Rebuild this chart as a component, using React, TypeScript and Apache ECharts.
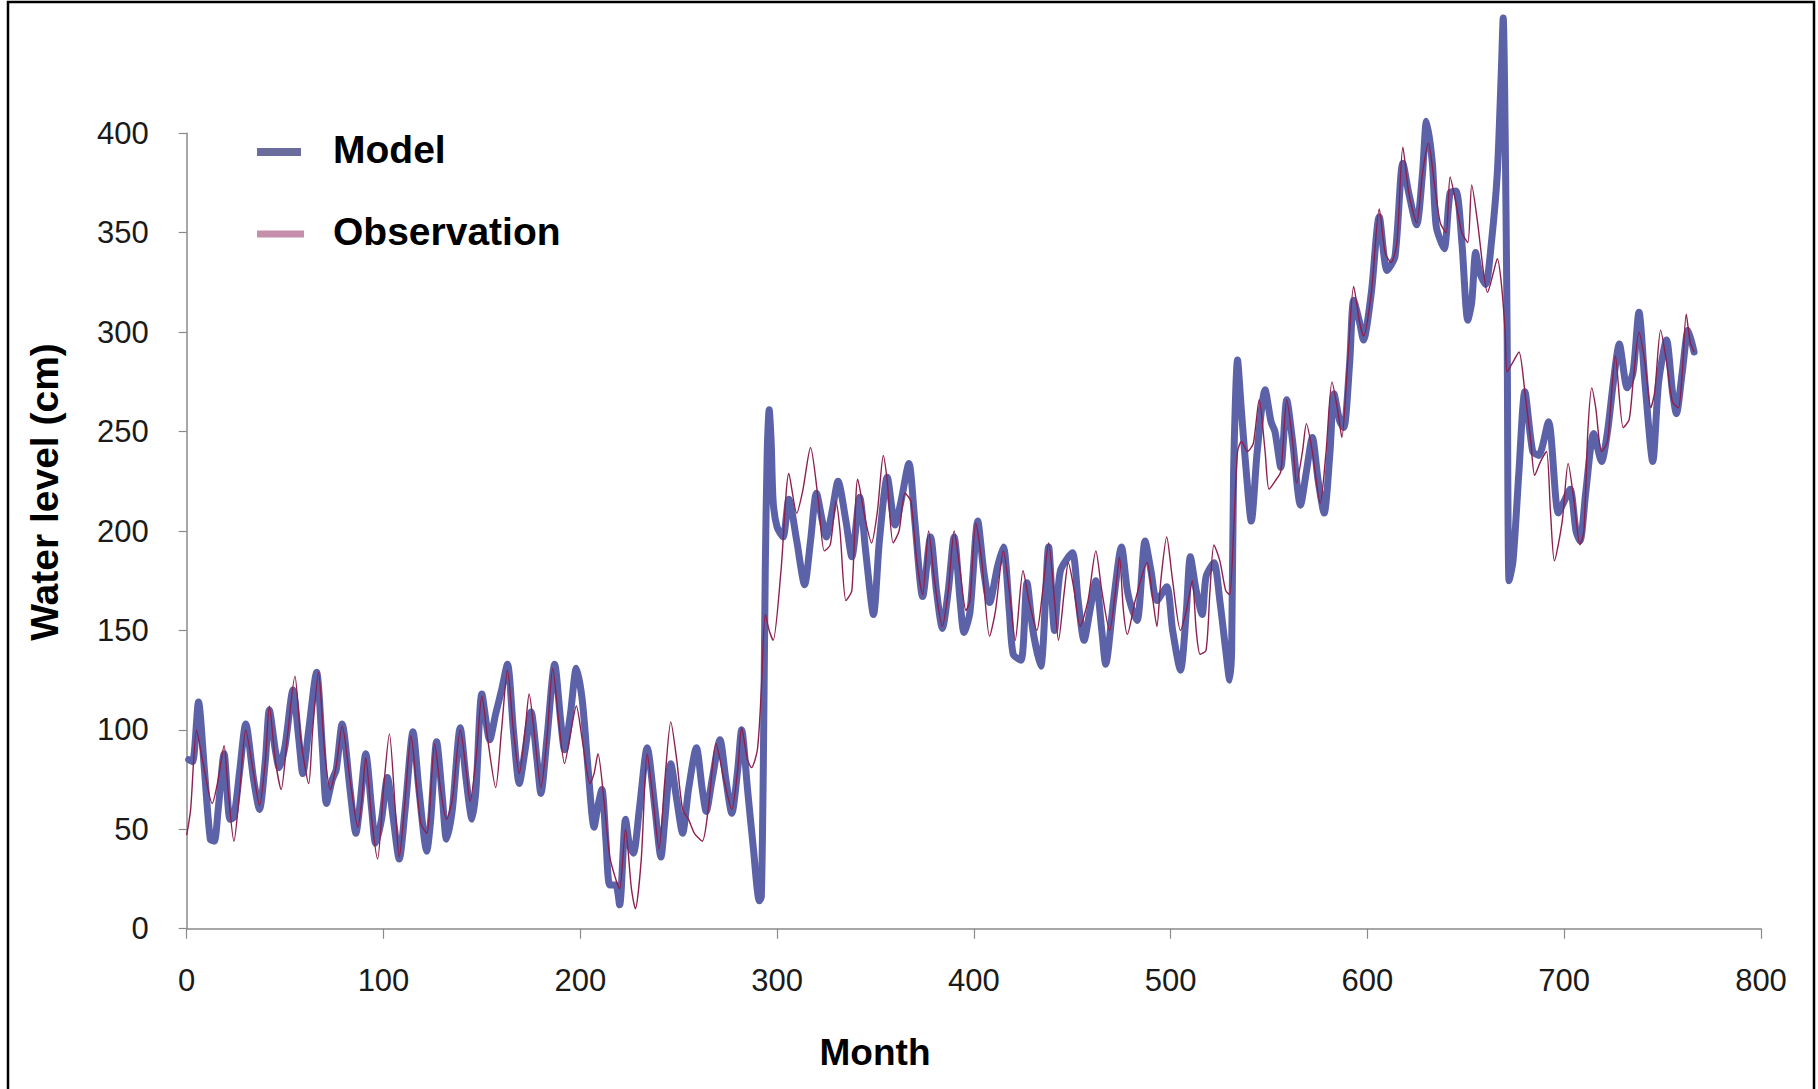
import React, { useEffect, useRef } from "react";
import * as echarts from "echarts";

// ---- Data ----
const modelMonths = [1,3,6,9,12,14,16,19,22,24,27,30,34,37,40,42,45,47,50,54,57,59,62,66,69,71,74,76,79,83,86,88,91,94,96,99,102,105,108,111,115,118,122,124,127,130,132,135,139,142,145,147,150,154,157,160,163,166,169,172,175,178,180,183,187,190,192,195,198,201,204,207,209,211,213,215,218,220,223,225,227,230,234,238,241,243,246,249,252,255,259,262,264,267,271,274,277,280,282,285,288,291,292,293,294,295,296,297,298,300,303,306,310,314,317,320,323,325,328,331,335,338,342,345,349,352,356,360,363,367,370,374,378,381,384,387,390,393,395,398,402,405,408,412,415,418,420,424,427,430,434,438,441,444,450,453,456,459,462,465,467,471,475,478,480,483,487,490,493,498,501,505,508,510,513,516,518,522,525,528,530,531,532,534,536,538,541,544,548,551,553,556,559,562,566,569,572,575,578,581,583,586,588,591,593,596,598,602,606,610,614,618,621,625,628,630,633,635,639,642,645,648,651,653,655,657,660,663,666,668,669,670,671,672,674,677,680,684,687,692,697,700,703,706,708,711,715,719,722,725,728,732,735,738,741,745,748,752,755,757,760,763,766];
const modelLevels = [85,84,114,80,45,44,60,88,55,56,80,103,75,60,85,110,90,81,92,120,95,78,100,129,90,63,75,80,103,70,48,62,88,60,43,55,76,55,35,60,99,70,39,55,94,65,45,60,101,75,55,70,118,95,108,120,133,100,73,90,109,85,68,95,133,105,90,108,131,115,80,51,62,70,45,22,22,12,55,42,38,60,91,60,36,55,83,65,48,70,91,70,59,75,95,75,58,80,100,70,40,14,16,80,180,240,261,245,215,202,197,216,195,173,195,219,205,197,210,225,205,187,217,190,158,195,227,203,215,234,205,167,197,170,151,170,197,165,149,159,205,180,164,182,192,160,138,135,174,150,132,192,150,180,189,165,145,160,175,150,133,165,192,170,162,155,195,180,165,172,150,130,160,187,170,158,177,184,165,140,125,140,230,286,260,235,205,240,271,255,250,232,266,245,213,230,247,225,209,240,269,255,252,285,316,305,296,320,358,331,338,385,370,354,380,406,385,353,342,370,371,345,306,315,340,330,324,345,380,430,458,400,300,175,185,230,270,240,238,255,209,215,221,200,195,220,249,235,250,275,294,272,280,310,275,235,275,296,270,259,280,301,290];

const obsMonths = [0,2,5,8,13,16,19,21,24,27,30,34,37,40,42,45,48,51,55,58,62,64,67,70,73,76,79,83,87,89,91,94,97,100,103,106,108,111,114,117,119,122,126,129,132,135,139,142,144,147,150,153,157,160,163,166,169,172,174,177,180,183,186,189,192,195,198,201,205,207,209,212,215,218,220,223,226,228,231,234,237,240,243,246,249,252,255,258,262,265,269,273,277,280,282,285,287,290,292,294,296,298,302,306,310,313,317,321,324,327,330,332,335,338,341,345,348,351,354,356,359,362,365,368,371,374,377,380,384,387,390,393,396,398,401,404,408,411,415,418,421,425,428,432,435,438,441,443,446,448,451,454,458,462,465,469,472,474,476,478,482,488,491,493,495,498,501,505,508,511,513,515,518,520,522,525,528,530,532,534,536,539,542,545,548,550,553,556,559,562,564,567,569,572,576,579,582,585,587,590,593,596,598,602,606,609,612,615,618,621,625,628,631,634,637,640,642,645,648,651,653,656,659,661,664,666,668,670,671,674,677,680,683,685,688,691,693,695,699,702,705,708,710,712,714,716,719,722,726,730,733,735,738,741,744,746,749,752,755,758,760,762,764,766];
const obsLevels = [47,60,100,85,63,75,92,70,44,70,100,78,62,85,112,85,70,95,127,95,73,100,129,90,70,82,102,75,51,65,86,55,35,70,98,60,36,65,97,70,53,48,93,70,55,65,100,80,64,85,117,95,71,100,130,100,78,100,118,95,71,95,131,105,83,98,112,95,73,78,88,65,36,25,20,50,20,10,35,88,65,40,75,104,85,60,55,48,44,60,93,75,60,80,101,85,81,90,120,158,150,145,180,229,209,220,242,215,190,193,215,200,165,170,226,205,194,210,238,225,194,200,219,215,185,168,200,175,152,170,200,180,160,165,204,185,147,160,190,170,145,180,165,150,170,194,165,145,170,184,170,152,165,190,170,150,170,187,160,148,165,184,165,152,175,197,175,150,160,175,150,138,140,170,193,185,170,168,200,240,245,240,244,266,240,221,225,230,266,245,224,240,254,240,214,240,275,260,247,285,323,305,298,320,362,340,335,345,393,370,355,380,395,375,355,350,378,365,350,345,374,355,330,320,330,337,325,300,280,285,290,270,245,228,235,240,210,185,205,234,215,193,200,250,272,262,240,245,288,252,256,275,300,285,262,270,301,285,265,262,280,309,295,290];

const xTicks = { min: 0, max: 800, interval: 100 };
const yTicks = { min: 0, max: 400, interval: 50 };
const seriesNames = ["Model", "Observation"];
const axisTitles = { x: "Month", y: "Water level (cm)" };

const FONT = "'Liberation Sans', Arial, sans-serif";

export default function App() {
  const ref = useRef<HTMLDivElement>(null);

  useEffect(() => {
    document.body.style.margin = "0";
    if (!ref.current) return;
    const chart = echarts.init(ref.current, undefined, { renderer: "svg" });

    const modelData = modelMonths.map((m, i) => [m, modelLevels[i]]);
    const obsData = obsMonths.map((m, i) => [m, obsLevels[i]]);

    const axisColor = "#8a8a8a";

    chart.setOption({
      animation: false,
      backgroundColor: "#ffffff",
      grid: { left: 186.7, right: 57, top: 133.3, bottom: 160.3 },
      xAxis: {
        type: "value",
        min: xTicks.min,
        max: xTicks.max,
        interval: xTicks.interval,
        axisLine: { show: true, lineStyle: { color: axisColor, width: 1.5 } },
        axisTick: { show: true, length: 10, lineStyle: { color: axisColor, width: 1.2 } },
        axisLabel: { margin: 36, fontSize: 31, color: "#1a1a1a", fontFamily: FONT },
        splitLine: { show: false },
      },
      yAxis: {
        type: "value",
        min: yTicks.min,
        max: yTicks.max,
        interval: yTicks.interval,
        axisLine: { show: true, lineStyle: { color: axisColor, width: 1.5 } },
        axisTick: { show: true, length: 8, lineStyle: { color: axisColor, width: 1.2 } },
        axisLabel: { margin: 38, fontSize: 31, color: "#1a1a1a", fontFamily: FONT },
        splitLine: { show: false },
      },
      series: [
        {
          name: seriesNames[0],
          type: "line",
          data: modelData,
          showSymbol: false,
          smooth: 0.25,
          clip: false,
          lineStyle: { color: "#5c62a8", width: 7, join: "round", cap: "round" },
          z: 2,
        },
        {
          name: seriesNames[1],
          type: "line",
          data: obsData,
          showSymbol: false,
          smooth: 0.25,
          clip: false,
          lineStyle: { color: "#8e1f4e", width: 1.4 },
          z: 3,
        },
      ],
      graphic: [
        {
          type: "rect",
          shape: { x: 8, y: 2, width: 1806, height: 1110 },
          style: { fill: "none", stroke: "#000", lineWidth: 2.5 },
          silent: true,
        },
        {
          type: "line",
          shape: { x1: 257, y1: 152, x2: 301, y2: 152 },
          style: { stroke: "#6a6c9e", lineWidth: 8 },
        },
        {
          type: "line",
          shape: { x1: 257, y1: 234, x2: 304, y2: 234 },
          style: { stroke: "#c58eaa", lineWidth: 7 },
        },
        {
          type: "text",
          x: 333,
          y: 149,
          style: {
            text: seriesNames[0],
            fontFamily: FONT,
            fontWeight: "bold",
            fontSize: 39,
            fill: "#000",
            textVerticalAlign: "middle",
            textAlign: "left",
          },
        },
        {
          type: "text",
          x: 333,
          y: 231,
          style: {
            text: seriesNames[1],
            fontFamily: FONT,
            fontWeight: "bold",
            fontSize: 39,
            fill: "#000",
            textVerticalAlign: "middle",
            textAlign: "left",
          },
        },
        {
          type: "text",
          x: 875,
          y: 1052,
          style: {
            text: axisTitles.x,
            fontFamily: FONT,
            fontWeight: "bold",
            fontSize: 37,
            fill: "#000",
            textVerticalAlign: "middle",
            textAlign: "center",
          },
        },
        {
          type: "text",
          x: 44,
          y: 492,
          rotation: Math.PI / 2,
          style: {
            text: axisTitles.y,
            fontFamily: FONT,
            fontWeight: "bold",
            fontSize: 39,
            fill: "#000",
            textVerticalAlign: "middle",
            textAlign: "center",
          },
        },
      ],
    });

    return () => {
      chart.dispose();
    };
  }, []);

  return (
    <div
      ref={ref}
      style={{ width: "1818px", height: "1089px", overflow: "hidden", background: "#fff" }}
    />
  );
}
